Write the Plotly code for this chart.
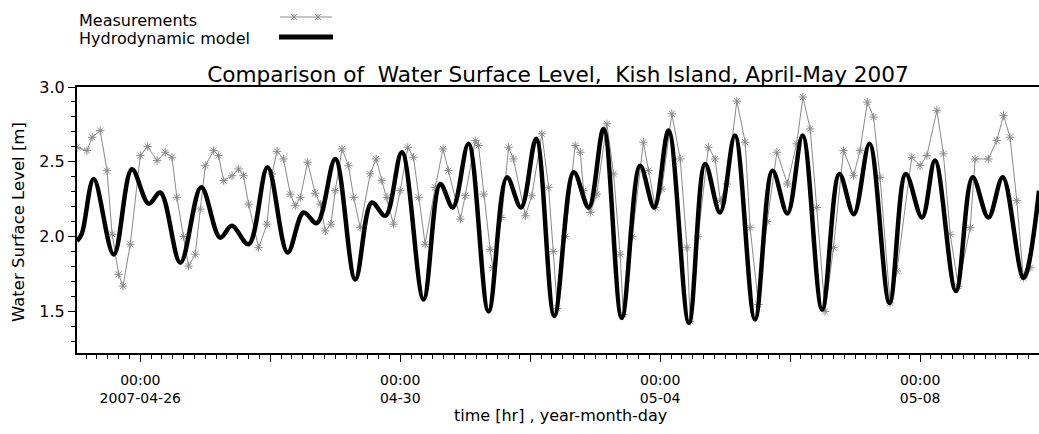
import pandas as pd
import plotly.graph_objects as go

# time in hours from 2007-04-25 00:00
model_hours = [0.6, 2.4, 6.8, 14.2, 20.9, 27.1, 31.4, 38.8, 46.5, 53.5, 57.8, 64.0, 71.0, 78.4,
               84.3, 89.2, 96.0, 103.4, 109.5, 114.5, 120.6, 128.6, 134.8, 139.4, 145.2, 152.6,
               159.4, 164.6, 170.2, 176.9, 184.1, 189.6, 195.1, 201.8, 208.6, 213.8, 219.1,
               226.6, 232.6, 238.1, 243.6, 251.0, 257.5, 263.0, 268.6, 275.8, 282.2, 287.5,
               293.3, 300.7, 306.7, 312.7, 317.5, 325.2, 331.4, 337.2, 342.5, 350.2, 355.9]
model_level = [1.97, 2.02, 2.385, 1.88, 2.45, 2.22, 2.295, 1.826, 2.33, 1.993, 2.072, 1.949, 2.463, 1.893,
               2.161, 2.09, 2.519, 1.714, 2.228, 2.139, 2.564, 1.58, 2.352, 2.195, 2.62, 1.50,
               2.396, 2.195, 2.654, 1.47, 2.43, 2.195, 2.72, 1.456, 2.474, 2.195, 2.709,
               1.423, 2.486, 2.161, 2.676, 1.446, 2.441, 2.155, 2.676, 1.513, 2.419, 2.15,
               2.62, 1.557, 2.419, 2.128, 2.508, 1.636, 2.396, 2.128, 2.396, 1.725, 2.307]

meas_hours = [0.6, 4.3, 6.2, 9.2, 11.7, 13.6, 16.0, 17.6, 20.3, 24.0, 26.7, 30.2, 33.2, 35.7,
              37.5, 40.0, 41.8, 44.3, 46.2, 48.0, 51.1, 52.9, 54.8, 57.9, 60.3, 62.1, 64.0,
              67.7, 70.8, 72.6, 74.5, 76.9, 79.4, 81.2, 83.1, 85.8, 88.6, 90.5, 92.3, 94.4,
              96.0, 98.5, 100.9, 102.8, 105.2, 108.9, 111.1, 113.2, 115.1, 117.5, 120.0, 122.8,
              124.9, 126.8, 129.2, 132.9, 135.8, 137.8, 142.2, 144.0, 147.7, 148.9, 150.8,
              153.2, 154.2, 157.5, 160.0, 161.8, 166.2, 168.6, 172.3, 174.8, 176.5, 178.0,
              181.0, 184.6, 186.5, 187.7, 190.2, 192.6, 196.3, 198.8, 201.2, 202.4, 205.7,
              209.8, 211.7, 214.2, 216.6, 220.3, 223.4, 225.9, 227.1, 230.0, 233.8, 236.3,
              238.2, 240.6, 244.3, 247.4, 249.2, 252.3, 255.5, 259.1, 263.0, 266.4, 268.7,
              271.4, 273.8, 276.9, 280.0, 283.7, 287.4, 289.8, 292.5, 294.8, 297.2, 300.9,
              303.4, 308.9, 312.0, 314.5, 318.2, 320.6, 323.1, 326.1, 330.5, 332.3, 337.2,
              340.3, 342.8, 345.2, 347.7, 350.1, 352.6, 355.9]
meas_level = [2.597, 2.575, 2.664, 2.709, 2.441, 2.016, 1.748, 1.669, 1.949, 2.542, 2.602, 2.508, 2.564, 2.53,
              2.262, 2.0, 1.803, 1.882, 2.184, 2.474, 2.575, 2.542, 2.374, 2.407, 2.452, 2.407, 2.217,
              1.926, 2.083, 2.419, 2.57, 2.519, 2.284, 2.206, 2.262, 2.497, 2.29, 2.217, 2.038, 2.083,
              2.307, 2.586, 2.474, 2.262, 2.06, 2.419, 2.519, 2.374, 2.262, 2.083, 2.307, 2.597,
              2.53, 2.262, 1.949, 2.329, 2.586, 2.441, 2.117, 2.273, 2.642, 2.609, 2.284,
              1.915, 1.792, 2.128, 2.597, 2.519, 2.139, 2.273, 2.687, 2.329, 1.9, 1.52,
              2.0, 2.609, 2.564, 2.307, 2.161, 2.284, 2.754, 2.419, 1.882, 1.479, 2.0,
              2.631, 2.441, 2.195, 2.318, 2.821, 2.519, 1.926, 1.434, 2.0, 2.597, 2.519,
              2.24, 2.352, 2.906, 2.631, 2.06, 1.546, 2.1, 2.564, 2.352, 2.62, 2.933,
              2.72, 2.195, 1.50, 1.926, 2.575, 2.407, 2.575, 2.899, 2.799, 2.396, 1.557,
              1.77, 2.53, 2.474, 2.542, 2.844, 2.553, 2.016, 1.669, 2.06, 2.519, 2.519,
              2.642, 2.81, 2.664, 2.24, 1.725, 1.792, 2.2]

tick_dates = ["2007-04-26", "2007-04-28", "2007-04-30", "2007-05-02", "2007-05-04", "2007-05-06", "2007-05-08"]
tick_labels = ["00:00<br>2007-04-26", "", "00:00<br>04-30", "", "00:00<br>05-04", "", "00:00<br>05-08"]

t0 = pd.Timestamp("2007-04-25 00:00")
model_t = t0 + pd.to_timedelta(model_hours, unit="h")
meas_t = t0 + pd.to_timedelta(meas_hours, unit="h")

FONT = "DejaVu Sans"
GRAY = "#8a8a8a"

fig = go.Figure()
fig.add_trace(go.Scatter(x=meas_t, y=meas_level, mode="lines+markers", name="Measurements",
                         line=dict(color=GRAY, width=1),
                         marker=dict(symbol="asterisk-open", size=7, color=GRAY,
                                     line=dict(color=GRAY, width=1))))
fig.add_trace(go.Scatter(x=model_t, y=model_level, mode="lines", name="Hydrodynamic model",
                         line=dict(color="black", width=4.5, shape="spline", smoothing=1.0)))

W, H = 1039, 434
L, R, T, B = 77, 0, 87, 81
pw, ph = W - L - R, H - T - B


def px(xp):
    return (xp - L) / pw


def py(yp):
    return (H - B - yp) / ph


shapes = [
    dict(type="line", xref="paper", yref="paper", x0=px(280), x1=px(332), y0=py(17), y1=py(17),
         line=dict(color=GRAY, width=1)),
    dict(type="line", xref="paper", yref="paper", x0=px(279), x1=px(333), y0=py(37), y1=py(37),
         line=dict(color="black", width=5)),
]
for mx in (294, 318):
    for (dx0, dy0, dx1, dy1) in [(-3, -3, 3, 3), (-3, 3, 3, -3), (0, -3, 0, 3)]:
        shapes.append(dict(type="line", xref="paper", yref="paper",
                           xsizemode="pixel", ysizemode="pixel",
                           xanchor=px(mx), yanchor=py(17),
                           x0=dx0, x1=dx1, y0=dy0, y1=dy1,
                           line=dict(color=GRAY, width=1)))

annotations = [
    dict(text="Measurements", xref="paper", yref="paper", x=0, y=py(20), xanchor="left",
         yanchor="middle", showarrow=False, font=dict(family=FONT, size=16, color="black")),
    dict(text="Hydrodynamic model", xref="paper", yref="paper", x=0, y=py(38), xanchor="left",
         yanchor="middle", showarrow=False, font=dict(family=FONT, size=16, color="black")),
    dict(text="Water Surface Level [m]", xref="paper", yref="paper", x=px(18), y=py(222),
         xanchor="center", yanchor="middle", textangle=-90, showarrow=False,
         font=dict(family=FONT, size=16.5, color="black")),
    dict(text="time [hr] , year-month-day", xref="paper", yref="paper", x=px(560), y=py(415),
         xanchor="center", yanchor="middle", showarrow=False,
         font=dict(family=FONT, size=16, color="black")),
]

fig.update_layout(
    width=W, height=H,
    margin=dict(l=L, r=R, t=T, b=B),
    paper_bgcolor="white", plot_bgcolor="white",
    showlegend=False,
    title=dict(text="Comparison of  Water Surface Level,  Kish Island, April-May 2007",
               x=0.5, xref="paper", xanchor="center", y=1 - 74 / H, yref="container",
               yanchor="middle", font=dict(family=FONT, size=21.6, color="black")),
    shapes=shapes, annotations=annotations,
    font=dict(family=FONT, color="black"),
)

fig.update_xaxes(
    type="date",
    range=[t0 + pd.Timedelta(hours=0.62), t0 + pd.Timedelta(hours=355.9)],
    tickmode="array", tickvals=tick_dates, ticktext=tick_labels,
    ticks="outside", ticklen=7, tickwidth=1, tickcolor="black",
    showline=True, linecolor="black", linewidth=2, mirror=True,
    showgrid=False, zeroline=False,
    tickfont=dict(family=FONT, size=14, color="black"),
    ticklabelstandoff=6,
    minor=dict(ticks="outside", ticklen=4, tickcolor="black", tickwidth=1,
               tickmode="linear", tick0="2007-04-26", dtick=4 * 3600 * 1000, showgrid=False),
)
fig.update_yaxes(
    range=[1.222, 3.0],
    tickmode="array", tickvals=[1.5, 2.0, 2.5, 3.0], ticktext=["1.5", "2.0", "2.5", "3.0"],
    ticks="outside", ticklen=7, tickwidth=1, tickcolor="black",
    showline=True, linecolor="black", linewidth=2, mirror=False,
    showgrid=False, zeroline=False,
    tickfont=dict(family=FONT, size=16, color="black"),
    minor=dict(ticks="outside", ticklen=4, tickcolor="black", tickwidth=1,
               tickmode="linear", tick0=1.0, dtick=0.1, showgrid=False),
)

fig.write_html("out.html")
